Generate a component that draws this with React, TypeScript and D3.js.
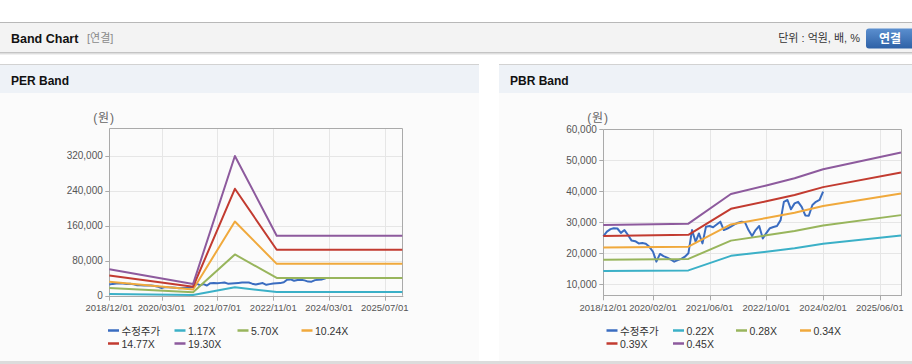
import React from 'react';
import * as d3 from 'd3';

const FONT = "'Liberation Sans', Arial, 'Noto Sans CJK KR', sans-serif";

// ---- shared adjusted price (수정주가), monthly from 2018/12 ----
const priceStart = '2018-12-01';
const priceValues = [
  25500, 27000, 27800, 28100, 28000, 26600, 27500, 25900, 24100, 23900, 23200, 23300,
  23100, 22100, 20500, 17300, 19800, 19100, 18600, 18000, 17300, 17800, 18200, 18900,
  20000, 27500, 23700, 26400, 23200, 28600, 28800, 28400, 29300, 30200, 27500, 28000,
  28600, 29300, 29900, 30200, 30000, 27500, 25600, 27500, 28800, 24800, 26500, 28100,
  28500, 28800, 30700, 36600, 37200, 34200, 36100, 36600, 35000, 32200, 32100, 35600,
  36600, 37200, 39900,
];

// ---- PER band ----
const perDates = ['2018-12-01', '2020-12-01', '2021-12-01', '2022-12-01', '2025-12-01'];
const perEps = [3127, 1386, 16545, 7106, 7106];
const perMultiples = [1.17, 5.7, 10.24, 14.77, 19.3];
const perLabels = ['1.17X', '5.70X', '10.24X', '14.77X', '19.30X'];
const perXTicks = ['2018-12-01', '2020-03-01', '2021-07-01', '2022-11-01', '2024-03-01', '2025-07-01'];
const perYTicks = [0, 80000, 160000, 240000, 320000];

// ---- PBR band ----
const pbrDates = ['2018-12-01', '2020-12-01', '2021-12-01', '2022-10-01', '2023-06-01', '2024-02-01', '2025-12-01'];
const pbrBps = [64800, 65700, 86956, 93111, 98222, 104667, 116667];
const pbrMultiples = [0.2205, 0.277, 0.337, 0.395, 0.45];
const pbrLabels = ['0.22X', '0.28X', '0.34X', '0.39X', '0.45X'];
const pbrXTicks = ['2018-12-01', '2020-02-01', '2021-06-01', '2022-10-01', '2024-02-01', '2025-06-01'];
const pbrYTicks = [10000, 20000, 30000, 40000, 50000, 60000];

const xDomainDates = ['2018-12-01', '2025-12-01'];
const priceName = '수정주가';
const priceColor = '#3a6cc0';
const bandColors = ['#3bb0c7', '#98b55c', '#f0a93c', '#c23b30', '#8d5a9d'];

type Pt = { date: Date; value: number };
const parse = d3.timeParse('%Y-%m-%d');
const fmtDate = d3.timeFormat('%Y/%m/%d');
const fmtNum = d3.format(',');

const pricePoints: Pt[] = priceValues.map((v, i) => ({
  date: d3.timeMonth.offset(parse(priceStart) as Date, i),
  value: v,
}));

function bandPoints(dates: string[], base: number[], mult: number): Pt[] {
  return dates.map((d, i) => ({ date: parse(d) as Date, value: base[i] * mult }));
}

type ChartProps = {
  left: number; right: number; top: number; bottom: number;
  yDomain: [number, number];
  yTicks: number[];
  xTicks: string[];
  dates: string[];
  base: number[];
  multiples: number[];
  labels: string[];
  legendX: number;
  unitX: number;
};

const legendCols = [0, 66.5, 129.5, 193.5];

function BandChart(p: ChartProps) {
  const x = d3.scaleTime()
    .domain(xDomainDates.map((d) => parse(d) as Date))
    .range([p.left, p.right]);
  const y = d3.scaleLinear().domain(p.yDomain).range([p.bottom, p.top]);
  const line = d3.line<Pt>().x((d) => x(d.date)).y((d) => y(d.value));

  const series = [
    { name: priceName, color: priceColor, pts: pricePoints },
    ...p.multiples.map((m, i) => ({
      name: p.labels[i],
      color: bandColors[i],
      pts: bandPoints(p.dates, p.base, m),
    })),
  ];

  const xt = p.xTicks.map((d) => parse(d) as Date);

  return (
    <g>
      <text x={p.unitX} y={122} textAnchor="middle" fontSize={12} fill="#666" letterSpacing={0.8}>(원)</text>
      {/* grid */}
      {p.yTicks.map((t) => (
        <line key={'gy' + t} x1={p.left} x2={p.right} y1={Math.round(y(t)) + 0.5} y2={Math.round(y(t)) + 0.5} stroke="#e6e6e6" />
      ))}
      {xt.map((t, i) => (
        <line key={'gx' + i} x1={Math.round(x(t)) + 0.5} x2={Math.round(x(t)) + 0.5} y1={p.top} y2={p.bottom} stroke="#e6e6e6" />
      ))}
      {/* border */}
      <path
        d={`M${Math.round(p.left) + 0.5},${p.bottom}V${Math.round(p.top) + 0.5}H${Math.round(p.right) + 0.5}V${p.bottom}`}
        fill="none" stroke="#aaaaaa" />
      <line x1={p.left} x2={p.right + 1} y1={Math.round(p.bottom) + 0.5} y2={Math.round(p.bottom) + 0.5} stroke="#aaaaaa" />
      {/* y axis ticks/labels */}
      {p.yTicks.map((t) => (
        <g key={'yl' + t}>
          <line x1={p.left - 4} x2={p.left} y1={Math.round(y(t)) + 0.5} y2={Math.round(y(t)) + 0.5} stroke="#aaaaaa" />
          <text x={p.left - 6.5} y={y(t) + 3.5} textAnchor="end" fontSize={10} fill="#555">{fmtNum(t)}</text>
        </g>
      ))}
      {/* x axis ticks/labels */}
      {xt.map((t, i) => (
        <g key={'xl' + i}>
          <line x1={Math.round(x(t)) + 0.5} x2={Math.round(x(t)) + 0.5} y1={p.bottom} y2={p.bottom + 5} stroke="#aaaaaa" />
          <text x={x(t)} y={310.5} textAnchor="middle" fontSize={9.5} fill="#555">{fmtDate(t)}</text>
        </g>
      ))}
      {/* lines */}
      {series.map((s) => (
        <path key={s.name} d={line(s.pts) || ''} fill="none" stroke={s.color} strokeWidth={2} strokeLinejoin="round" />
      ))}
      {/* legend */}
      {series.map((s, i) => {
        const row = i < 4 ? 0 : 1;
        const col = i < 4 ? i : i - 4;
        const lx = p.legendX + legendCols[col];
        const ly = row === 0 ? 330.5 : 343.5;
        return (
          <g key={'lg' + s.name}>
            <line x1={lx} x2={lx + 11} y1={ly} y2={ly} stroke={s.color} strokeWidth={2.5} />
            <text x={lx + 13.5} y={ly + 4} fontSize={10.5} fill="#333">{s.name}</text>
          </g>
        );
      })}
    </g>
  );
}

function Panel({ x, w, title }: { x: number; w: number; title: string }) {
  return (
    <g>
      <rect x={x} y={64} width={w} height={297} fill="#fbfbfb" />
      <rect x={x} y={64} width={w} height={29} fill="#eef2f7" />
      <line x1={x} x2={x + w} y1={64.5} y2={64.5} stroke="#d2d2d2" />
      <text x={x + 11} y={84.5} fontSize={12} fontWeight="bold" fill="#111">{title}</text>
    </g>
  );
}

export default function App() {
  return (
    <div style={{ position: 'absolute', left: 0, top: 0, width: 912, height: 364, overflow: 'hidden', background: '#fff' }}>
      <svg width={912} height={364} style={{ display: 'block', fontFamily: FONT }}>
        <defs>
          <linearGradient id="btnGrad" x1="0" y1="0" x2="0" y2="1">
            <stop offset="0" stopColor="#5b8fcf" />
            <stop offset="1" stopColor="#2e61a6" />
          </linearGradient>
        </defs>
        {/* header */}
        <rect x={0} y={22} width={912} height={31} fill="#f3f3f3" />
        <line x1={0} x2={912} y1={22.5} y2={22.5} stroke="#b8b8b8" />
        <line x1={0} x2={912} y1={52.5} y2={52.5} stroke="#c4c4c4" />
        <line x1={0} x2={912} y1={53.5} y2={53.5} stroke="#dedede" />
        <line x1={0} x2={912} y1={54.5} y2={54.5} stroke="#f0f0f0" />
        <text x={11} y={42.5} fontSize={12.5} fontWeight="bold" fill="#111">Band Chart</text>
        <text x={87} y={42} fontSize={11} fill="#8a8a8a">[연결]</text>
        <text x={860} y={42} textAnchor="end" fontSize={11} fill="#333">단위 : 억원, 배, %</text>
        <rect x={866} y={28.5} width={52} height={20} rx={3} fill="url(#btnGrad)" />
        <text x={890} y={42.5} textAnchor="middle" fontSize={12} fontWeight="bold" fill="#fff">연결</text>

        <Panel x={0} w={479} title="PER Band" />
        <Panel x={499} w={413} title="PBR Band" />
        <rect x={0} y={361} width={912} height={3} fill="#dcdcdc" />

        <BandChart
          left={109.3} right={402.3} top={128.3} bottom={295.7}
          yDomain={[0, 382600]} yTicks={perYTicks} xTicks={perXTicks}
          dates={perDates} base={perEps} multiples={perMultiples} labels={perLabels}
          legendX={108} unitX={104}
        />
        <BandChart
          left={603.3} right={901} top={129.3} bottom={295.3}
          yDomain={[6452, 60000]} yTicks={pbrYTicks} xTicks={pbrXTicks}
          dates={pbrDates} base={pbrBps} multiples={pbrMultiples} labels={pbrLabels}
          legendX={606.5} unitX={598}
        />
      </svg>
    </div>
  );
}
